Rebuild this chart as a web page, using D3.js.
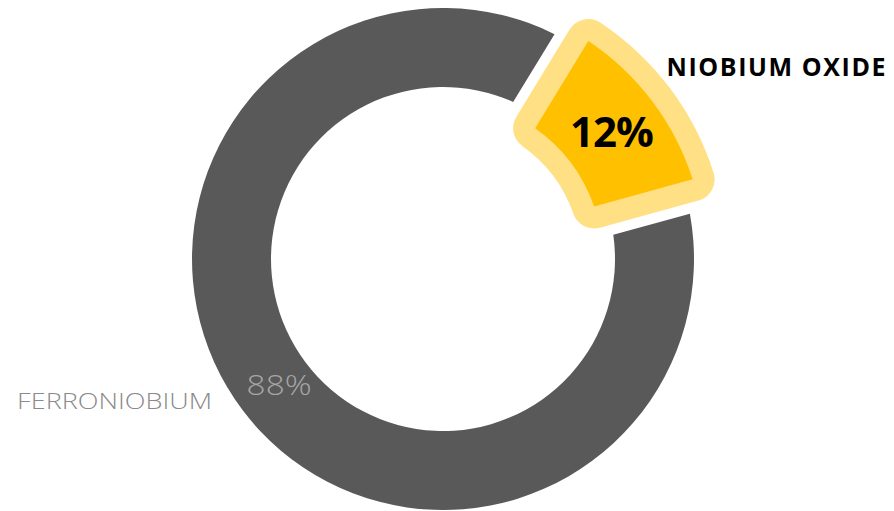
<!DOCTYPE html>
<html><head><meta charset="utf-8">
<script src="https://cdn.jsdelivr.net/npm/d3@7"></script>
<style>html,body{margin:0;padding:0;background:#fff;}svg{display:block;}</style>
</head><body>
<svg id="chart" width="894" height="511"></svg>
<script>
const categories = ["NIOBIUM OXIDE", "FERRONIOBIUM"];
const values = [12, 88];
const valueLabels = ["12%", "88%"];

const W = 894, H = 511;
const cx = 443, cy = 259;
const svg = d3.select("#chart");
const g = svg.append("g").attr("transform", `translate(${cx},${cy})`);

const startDeg = 31.4;
const pie = d3.pie().sort(null).value(d => d)
  .startAngle(startDeg * Math.PI / 180)
  .endAngle(startDeg * Math.PI / 180 + 2 * Math.PI);
const arcsData = pie(values);

const grayArc = d3.arc().innerRadius(172).outerRadius(251).padRadius(200).padAngle(0.22);
const hiArc = d3.arc().innerRadius(160).outerRadius(262).padRadius(200).padAngle(0.105);
const labelArc = d3.arc().innerRadius(172).outerRadius(251);

// gray slice
g.append("path").attr("d", grayArc(arcsData[1])).attr("fill", "#595959");

// highlighted slice: border then fill
g.append("path").attr("d", hiArc(arcsData[0]))
  .attr("fill", "#FFE084").attr("stroke", "#FFE084")
  .attr("stroke-width", 44).attr("stroke-linejoin", "round");
g.append("path").attr("d", hiArc(arcsData[0])).attr("fill", "#FFC000");

// value labels
const c0 = hiArc.centroid(arcsData[0]);
g.append("text").attr("x", c0[0]).attr("y", c0[1] + 15)
  .attr("text-anchor", "middle")
  .style("font-family", "'Open Sans', sans-serif").style("font-weight", 700)
  .style("font-size", "42px").style("letter-spacing", "-1px").attr("fill", "#000")
  .text(valueLabels[0]);

const c1 = labelArc.centroid(arcsData[1]);
g.append("text").attr("x", c1[0] + 5).attr("y", c1[1] + 9)
  .attr("text-anchor", "middle")
  .attr("textLength", 65).attr("lengthAdjust", "spacingAndGlyphs")
  .style("font-family", "'Open Sans', sans-serif").style("font-weight", 300)
  .style("font-size", "27px").attr("fill", "#a6a6a6")
  .text(valueLabels[1]);

// category labels
g.append("text").attr("x", c0[0] + 55).attr("y", c0[1] - 56)
  .style("font-family", "'Open Sans', sans-serif").style("font-weight", 700)
  .style("font-size", "25px").style("letter-spacing", "1.6px").attr("fill", "#000")
  .text(categories[0]);

g.append("text").attr("x", c1[0] - 62).attr("y", c1[1] + 23)
  .attr("text-anchor", "end")
  .attr("textLength", 195).attr("lengthAdjust", "spacingAndGlyphs")
  .style("font-family", "'Open Sans', sans-serif").style("font-weight", 300)
  .style("font-size", "22px").attr("fill", "#8a8a8a")
  .text(categories[1]);
</script>
</body></html>
